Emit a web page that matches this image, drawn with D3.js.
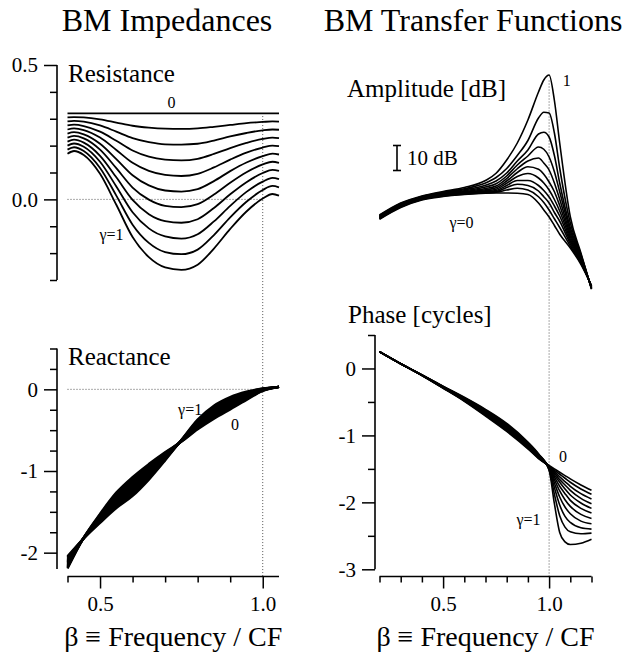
<!DOCTYPE html>
<html>
<head>
<meta charset="utf-8">
<script src="https://cdn.jsdelivr.net/npm/d3@7"></script>
<style>
  html, body { margin: 0; padding: 0; background: #fff; }
  svg { display: block; }
  svg text { font-family: "Liberation Serif", "Times New Roman", serif; fill: #000; }
  .axis path, .axis line { stroke: #000; stroke-width: 1.5; }
  .axis text { font-size: 21px; font-family: "Liberation Serif", "Times New Roman", serif; }
</style>
</head>
<body>
<svg id="chart" width="634" height="656"></svg>
<script>
// damping parameter of each curve in every family
const gammas = [0, 0.1, 0.2, 0.3, 0.4, 0.5, 0.6, 0.7, 0.8, 0.9, 1.0];

// ---- BM resistance (rows: gamma 0 .. 1) ----
const betaRes = [0.40, 0.42, 0.45, 0.50, 0.55, 0.60, 0.65, 0.70, 0.75, 0.80, 0.85, 0.90, 0.95, 1.00, 1.03, 1.05];
const resistance = [
  [0.320, 0.320, 0.320, 0.320, 0.320, 0.320, 0.320, 0.320, 0.320, 0.320, 0.320, 0.320, 0.320, 0.320, 0.320, 0.320],
  [0.305, 0.306, 0.305, 0.298, 0.286, 0.274, 0.267, 0.263, 0.262, 0.264, 0.270, 0.277, 0.284, 0.288, 0.290, 0.289],
  [0.290, 0.292, 0.289, 0.275, 0.252, 0.228, 0.213, 0.205, 0.204, 0.207, 0.219, 0.234, 0.247, 0.257, 0.260, 0.259],
  [0.275, 0.278, 0.273, 0.252, 0.218, 0.182, 0.159, 0.148, 0.145, 0.151, 0.169, 0.191, 0.210, 0.225, 0.230, 0.228],
  [0.260, 0.264, 0.258, 0.230, 0.184, 0.136, 0.106, 0.091, 0.087, 0.095, 0.119, 0.148, 0.174, 0.193, 0.200, 0.198],
  [0.245, 0.250, 0.242, 0.207, 0.150, 0.090, 0.052, 0.033, 0.029, 0.038, 0.068, 0.105, 0.137, 0.161, 0.170, 0.167],
  [0.230, 0.236, 0.227, 0.185, 0.116, 0.044, -0.001, -0.024, -0.029, -0.018, 0.018, 0.062, 0.101, 0.130, 0.140, 0.136],
  [0.215, 0.222, 0.211, 0.162, 0.082, -0.002, -0.055, -0.081, -0.087, -0.074, -0.032, 0.019, 0.064, 0.098, 0.110, 0.106],
  [0.200, 0.208, 0.196, 0.140, 0.048, -0.048, -0.108, -0.138, -0.146, -0.130, -0.082, -0.024, 0.028, 0.066, 0.080, 0.075],
  [0.185, 0.194, 0.180, 0.117, 0.014, -0.094, -0.162, -0.196, -0.204, -0.187, -0.133, -0.067, -0.009, 0.035, 0.050, 0.045],
  [0.170, 0.180, 0.165, 0.095, -0.020, -0.140, -0.215, -0.253, -0.262, -0.243, -0.183, -0.110, -0.045, 0.003, 0.020, 0.014]
];

// ---- BM reactance ----
const betaReac = [0.40, 0.45, 0.50, 0.55, 0.60, 0.65, 0.70, 0.75, 0.80, 0.85, 0.90, 0.95, 1.00, 1.05];
const reactance = [
  [-2.195, -1.815, -1.525, -1.265, -1.075, -0.915, -0.770, -0.640, -0.490, -0.360, -0.245, -0.130, -0.020, 0.030],
  [-2.180, -1.816, -1.536, -1.284, -1.098, -0.934, -0.780, -0.638, -0.478, -0.344, -0.230, -0.120, -0.017, 0.030],
  [-2.165, -1.817, -1.547, -1.303, -1.121, -0.953, -0.790, -0.636, -0.466, -0.328, -0.215, -0.110, -0.014, 0.030],
  [-2.150, -1.818, -1.558, -1.322, -1.144, -0.972, -0.800, -0.634, -0.454, -0.312, -0.200, -0.100, -0.011, 0.030],
  [-2.135, -1.819, -1.569, -1.341, -1.167, -0.991, -0.810, -0.632, -0.442, -0.296, -0.185, -0.090, -0.008, 0.030],
  [-2.120, -1.820, -1.580, -1.360, -1.190, -1.010, -0.820, -0.630, -0.430, -0.280, -0.170, -0.080, -0.005, 0.030],
  [-2.105, -1.821, -1.591, -1.379, -1.213, -1.029, -0.830, -0.628, -0.418, -0.264, -0.155, -0.070, -0.002, 0.030],
  [-2.090, -1.822, -1.602, -1.398, -1.236, -1.048, -0.840, -0.626, -0.406, -0.248, -0.140, -0.060, 0.001, 0.030],
  [-2.075, -1.823, -1.613, -1.417, -1.259, -1.067, -0.850, -0.624, -0.394, -0.232, -0.125, -0.050, 0.004, 0.030],
  [-2.060, -1.824, -1.624, -1.436, -1.282, -1.086, -0.860, -0.622, -0.382, -0.216, -0.110, -0.040, 0.007, 0.030],
  [-2.045, -1.825, -1.635, -1.455, -1.305, -1.105, -0.870, -0.620, -0.370, -0.200, -0.095, -0.030, 0.010, 0.030]
];

// ---- transfer-function amplitude, dB ----
const betaAmp = [0.20, 0.30, 0.40, 0.50, 0.60, 0.70, 0.75, 0.80, 0.85, 0.90, 0.95, 0.975, 1.00, 1.025, 1.05, 1.10, 1.15, 1.20];
const amplitude = [
  [-10.5, -5.8, -2.8, -1.4, -0.6, -0.1, 0.0, 0.0, -0.1, -0.6, -4.0, -6.8, -9.6, -13.0, -16.5, -22.0, -28.5, -37.0],
  [-10.3, -5.6, -2.6, -1.2, -0.45, 0.1, 0.3, 1.2, 1.9, 1.2, -1.5, -3.8, -6.8, -10.3, -13.8, -21.2, -28.1, -37.2],
  [-10.2, -5.4, -2.5, -1.0, -0.3, 0.3, 0.6, 2.2, 3.5, 3.0, 0.8, -1.5, -4.0, -7.8, -11.3, -20.3, -27.7, -37.3],
  [-10.0, -5.3, -2.3, -0.8, -0.1, 0.6, 1.0, 3.0, 5.0, 5.0, 3.0, 1.0, -1.6, -5.2, -9.2, -19.4, -27.3, -37.5],
  [-9.8, -5.1, -2.2, -0.6, 0.1, 0.9, 1.5, 3.9, 6.6, 7.8, 6.0, 4.0, 1.2, -2.6, -7.2, -18.5, -26.9, -37.6],
  [-9.7, -4.9, -2.0, -0.4, 0.3, 1.3, 2.1, 4.8, 8.2, 10.5, 9.5, 7.5, 4.4, 0.5, -5.0, -17.5, -26.5, -37.8],
  [-9.5, -4.7, -1.8, -0.2, 0.6, 1.8, 2.8, 5.8, 9.7, 12.8, 14.0, 12.0, 9.2, 4.0, -2.5, -16.4, -26.0, -37.9],
  [-9.3, -4.5, -1.7, 0.0, 0.9, 2.4, 3.7, 6.8, 11.2, 14.8, 18.4, 17.5, 14.4, 8.5, 0.5, -15.2, -25.5, -38.0],
  [-9.1, -4.4, -1.5, 0.2, 1.3, 3.1, 4.8, 8.0, 12.8, 17.2, 23.6, 24.3, 22.4, 15.0, 4.0, -13.9, -25.0, -38.2],
  [-9.0, -4.2, -1.4, 0.4, 1.7, 4.0, 6.2, 9.8, 15.0, 21.0, 30.0, 32.3, 32.0, 24.0, 10.0, -12.0, -24.5, -38.3],
  [-8.8, -4.0, -1.2, 0.6, 2.2, 5.0, 7.9, 13.2, 20.0, 29.2, 40.4, 45.2, 47.2, 37.0, 20.0, -9.5, -24.0, -38.5]
];

// ---- transfer-function phase, cycles ----
const betaPhase = [0.20, 0.30, 0.40, 0.50, 0.60, 0.70, 0.80, 0.90, 0.95, 1.00, 1.025, 1.05, 1.075, 1.10, 1.15, 1.20];
const phase = [
  [0.25, 0.07, -0.105, -0.295, -0.490, -0.71, -0.940, -1.20, -1.345, -1.45, -1.50, -1.55, -1.60, -1.65, -1.74, -1.82],
  [0.25, 0.07, -0.104, -0.292, -0.484, -0.70, -0.928, -1.19, -1.338, -1.46, -1.52, -1.58, -1.64, -1.70, -1.80, -1.88],
  [0.25, 0.07, -0.103, -0.289, -0.478, -0.69, -0.916, -1.18, -1.331, -1.46, -1.54, -1.62, -1.69, -1.76, -1.87, -1.95],
  [0.25, 0.07, -0.102, -0.286, -0.472, -0.68, -0.904, -1.17, -1.324, -1.47, -1.56, -1.66, -1.74, -1.82, -1.94, -2.02],
  [0.25, 0.07, -0.101, -0.283, -0.466, -0.67, -0.892, -1.16, -1.317, -1.47, -1.59, -1.70, -1.80, -1.89, -2.01, -2.09],
  [0.25, 0.07, -0.100, -0.280, -0.460, -0.66, -0.880, -1.15, -1.310, -1.48, -1.62, -1.76, -1.87, -1.97, -2.09, -2.16],
  [0.25, 0.07, -0.099, -0.277, -0.454, -0.65, -0.868, -1.14, -1.303, -1.48, -1.66, -1.83, -1.96, -2.06, -2.18, -2.24],
  [0.25, 0.07, -0.098, -0.274, -0.448, -0.64, -0.856, -1.13, -1.296, -1.49, -1.71, -1.92, -2.07, -2.17, -2.28, -2.32],
  [0.25, 0.07, -0.097, -0.271, -0.442, -0.63, -0.844, -1.12, -1.289, -1.50, -1.78, -2.04, -2.21, -2.30, -2.38, -2.40],
  [0.25, 0.07, -0.096, -0.268, -0.436, -0.62, -0.832, -1.11, -1.282, -1.51, -1.88, -2.20, -2.37, -2.44, -2.47, -2.46],
  [0.25, 0.07, -0.095, -0.265, -0.430, -0.61, -0.820, -1.10, -1.275, -1.52, -2.02, -2.45, -2.59, -2.63, -2.61, -2.55]
];

// ---- axis ticks ----
const resMajor = [0.5, 0.0];
const resMinor = [0.4, 0.3, 0.2, 0.1, -0.1, -0.2, -0.3];
const reacMajor = [0, -1, -2];
const reacMinor = [0.5, 0.25, -0.25, -0.5, -0.75, -1.25, -1.5, -1.75];
const phaseMajor = [0, -1, -2, -3];
const phaseMinor = [0.5, -0.5, -1.5, -2.5];
const betaMajor = [0.5, 1.0];
const leftBetaMinor = [0.4, 0.6, 0.7, 0.8, 0.9];
const rightBetaMinor = [0.2, 0.3, 0.4, 0.6, 0.7, 0.8, 0.9, 1.1, 1.2];

const serif = '"Liberation Serif", "Times New Roman", serif';
const svg = d3.select("#chart");
svg.append("rect").attr("width", 634).attr("height", 656).attr("fill", "#fff");

// scales
const xL = d3.scaleLinear().domain([0.4, 1.05]).range([67.5, 279]);
const xR = d3.scaleLinear().domain([0.2, 1.2]).range([379.5, 591.5]);
const yRes = d3.scaleLinear().domain([-0.3, 0.5]).range([280, 65]);
const yReac = d3.scaleLinear().domain([-2.2, 0.5]).range([569, 348.5]);
const yAmp = d3.scaleLinear().domain([-40, 50]).range([293, 68]);
const yPh = d3.scaleLinear().domain([-3, 0.5]).range([569.3, 335]);

const dotted = sel => sel.attr("stroke", "#555").attr("stroke-width", 1).attr("stroke-dasharray", "1,2").attr("fill", "none");

// reference lines (zero level and beta = 1)
svg.append("line").attr("x1", xL(0.4)).attr("x2", xL(1.0)).attr("y1", yRes(0)).attr("y2", yRes(0)).call(dotted);
svg.append("line").attr("x1", xL(0.4)).attr("x2", xL(1.0)).attr("y1", yReac(0)).attr("y2", yReac(0)).call(dotted);
svg.append("line").attr("x1", xL(1.0)).attr("x2", xL(1.0)).attr("y1", yRes(0.31)).attr("y2", 576).call(dotted);
svg.append("line").attr("x1", xR(1.0)).attr("x2", xR(1.0)).attr("y1", yAmp(45)).attr("y2", 576).call(dotted);

// curve families
function family(betas, rows, x, y, width) {
  const line = d3.line().x(d => x(d[0])).y(d => y(d[1])).curve(d3.curveMonotoneX);
  svg.append("g").selectAll("path")
    .data(rows.map(r => betas.map((b, j) => [b, r[j]])))
    .join("path")
    .attr("d", line)
    .attr("fill", "none")
    .attr("stroke", "#000")
    .attr("stroke-width", width)
    .attr("stroke-linejoin", "round");
}
family(betaRes, resistance, xL, yRes, 1.8);
family(betaReac, reactance, xL, yReac, 2.4);
family(betaAmp, amplitude, xR, yAmp, 1.6);
family(betaPhase, phase, xR, yPh, 1.6);

// axes: major ticks with labels plus shorter unlabelled minor ticks
function styleAxis(g) {
  g.attr("font-family", serif).attr("font-size", 21);
  g.select(".domain").remove();
}
function yAxis(scale, x, major, minor, fmt) {
  svg.append("g").attr("class", "axis").attr("transform", `translate(${x},0)`)
    .call(d3.axisLeft(scale).tickValues(major).tickSize(13).tickSizeOuter(0).tickPadding(6).tickFormat(fmt))
    .call(styleAxis);
  svg.append("g").attr("class", "axis").attr("transform", `translate(${x},0)`)
    .call(d3.axisLeft(scale).tickValues(minor).tickSize(7).tickFormat(""))
    .call(styleAxis);
  const [a, b] = scale.range();
  svg.append("line").attr("x1", x).attr("x2", x).attr("y1", Math.min(a, b)).attr("y2", Math.max(a, b))
    .attr("stroke", "#000").attr("stroke-width", 1.6);
}
function xAxis(scale, y, minor) {
  svg.append("g").attr("class", "axis").attr("transform", `translate(0,${y})`)
    .call(d3.axisBottom(scale).tickValues(betaMajor).tickSize(12).tickPadding(8).tickFormat(d3.format(".1f")))
    .call(styleAxis);
  svg.append("g").attr("class", "axis").attr("transform", `translate(0,${y})`)
    .call(d3.axisBottom(scale).tickValues(minor).tickSize(6).tickFormat(""))
    .call(styleAxis);
  const [a, b] = scale.range();
  svg.append("line").attr("x1", a).attr("x2", b).attr("y1", y).attr("y2", y)
    .attr("stroke", "#000").attr("stroke-width", 1.6);
}
yAxis(yRes, 57, resMajor, resMinor, d3.format(".1f"));
yAxis(yReac, 57, reacMajor, reacMinor, d => String(d));
yAxis(yPh, 375, phaseMajor, phaseMinor, d => String(d));
xAxis(xL, 576.5, leftBetaMinor);
xAxis(xR, 576.5, rightBetaMinor);

// text helper
const text = (x, y, s, size, anchor) => svg.append("text").attr("x", x).attr("y", y)
  .attr("font-family", serif).attr("font-size", size)
  .attr("text-anchor", anchor || "start").attr("fill", "#000").text(s);

// 10 dB scale bar
const barX = 397;
const bar = svg.append("g").attr("stroke", "#000").attr("stroke-width", 1.6);
bar.append("line").attr("x1", barX).attr("x2", barX).attr("y1", yAmp(19)).attr("y2", yAmp(9));
bar.append("line").attr("x1", barX - 4).attr("x2", barX + 4).attr("y1", yAmp(19)).attr("y2", yAmp(19));
bar.append("line").attr("x1", barX - 4).attr("x2", barX + 4).attr("y1", yAmp(9)).attr("y2", yAmp(9));
text(barX + 10, yAmp(14) + 7, "10 dB", 21);

// titles and panel names
text(167, 31, "BM Impedances", 32, "middle");
text(473, 31, "BM Transfer Functions", 32, "middle");
text(68, 82, "Resistance", 25);
text(68, 365, "Reactance", 25);
text(347, 97, "Amplitude [dB]", 25);
text(348, 323, "Phase [cycles]", 25);
text((xL(0.4) + xL(1.05)) / 2, 646, "β ≡ Frequency / CF", 28, "middle");
text((xR(0.2) + xR(1.2)) / 2, 646, "β ≡ Frequency / CF", 28, "middle");

// gamma annotations
text(xL(0.72), yRes(0.34), "0", 16, "middle");
text(xL(0.535), yRes(-0.151), "γ=1", 16, "middle");
text(xL(0.777), yReac(-0.315), "γ=1", 16, "middle");
text(xL(0.915), yReac(-0.5), "0", 16, "middle");
text(xR(1.064), yAmp(42.8), "1", 16, "start");
text(xR(0.587), yAmp(-14), "γ=0", 16, "middle");
text(xR(1.066), yPh(-1.4), "0", 16, "middle");
text(xR(0.903), yPh(-2.34), "γ=1", 16, "middle");
</script>
</body>
</html>
